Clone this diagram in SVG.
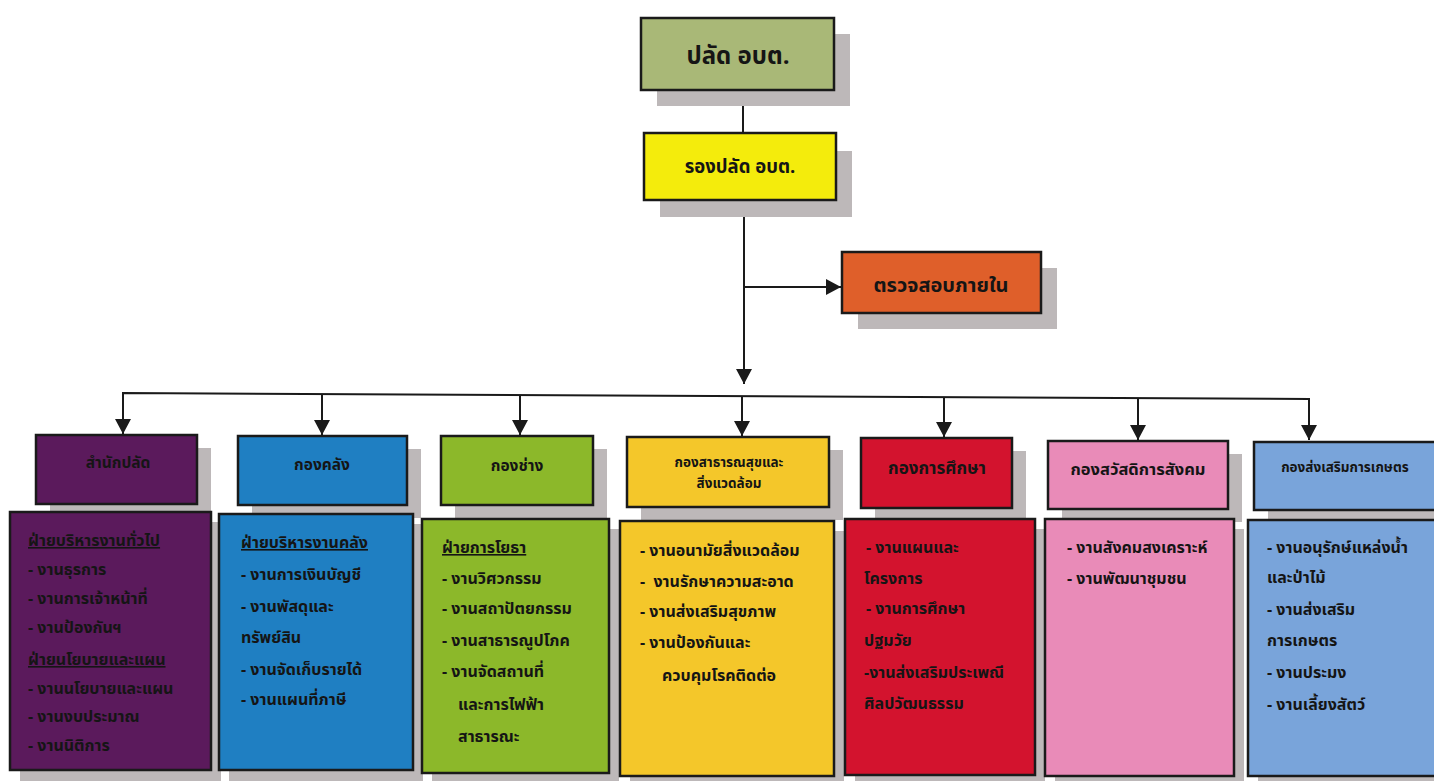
<svg xmlns="http://www.w3.org/2000/svg" width="1434" height="781" viewBox="0 0 1434 781">
<defs>
<marker id="arr" markerUnits="userSpaceOnUse" markerWidth="18" markerHeight="18" refX="15" refY="8" orient="auto"><path d="M0,0 L15,8 L0,16 z" fill="#1a1a1a"/></marker>
<style>
text{font-family:"Noto Sans Thai","Noto Sans","Liberation Sans",sans-serif;font-weight:bold;fill:#151515}
.box{stroke:#1a1a1a;stroke-width:2.5}
.sh{fill:#bdb8b9}
.conn{stroke:#1a1a1a;stroke-width:2;fill:none}
.h{font-size:15.5px;text-anchor:middle}
.b{font-size:16px}
.u{text-decoration:underline}
</style>
</defs>
<rect width="1434" height="781" fill="#fff"/>
<g id="connectors">
<line class="conn" x1="743" y1="90" x2="743" y2="133"/>
<line class="conn" x1="744" y1="200" x2="744" y2="384" marker-end="url(#arr)"/>
<line class="conn" x1="744" y1="287" x2="841" y2="287" marker-end="url(#arr)"/>
<polyline class="conn" points="123,433 123,393 1309,399 1309,440" marker-end="url(#arr)"/>
<line class="conn" x1="123" y1="393" x2="123" y2="434" marker-end="url(#arr)"/>
<line class="conn" x1="322" y1="394" x2="322" y2="435" marker-end="url(#arr)"/>
<line class="conn" x1="520" y1="395" x2="520" y2="435" marker-end="url(#arr)"/>
<line class="conn" x1="742" y1="396" x2="742" y2="436" marker-end="url(#arr)"/>
<line class="conn" x1="944" y1="397" x2="944" y2="437" marker-end="url(#arr)"/>
<line class="conn" x1="1138" y1="398" x2="1138" y2="440" marker-end="url(#arr)"/>
</g>
<g id="n-palad">
<rect class="sh" x="657" y="34" width="193" height="72"/>
<rect class="box" x="641" y="18" width="193" height="72" fill="#a9b877"/>
<text x="738" y="64" font-size="24" text-anchor="middle">ปลัด อบต.</text>
</g>
<g id="n-rongpalad">
<rect class="sh" x="660" y="151" width="192" height="66"/>
<rect class="box" x="644" y="133" width="192" height="67" fill="#f4ec0c"/>
<text x="740" y="173" font-size="18.5" text-anchor="middle">รองปลัด อบต.</text>
</g>
<g id="n-audit">
<rect class="sh" x="858" y="268" width="199" height="61"/>
<rect class="box" x="842" y="252" width="199" height="61" fill="#df5f2a"/>
<text x="941" y="292" font-size="20" text-anchor="middle">ตรวจสอบภายใน</text>
</g>
<g id="n-samnak">
<rect class="sh" x="50" y="448" width="161" height="69"/>
<rect class="box" x="36" y="435" width="161" height="69" fill="#5b1a5c"/>
<text class="h" x="118" y="468">สำนักปลัด</text>
<rect class="sh" x="20" y="522" width="201" height="259"/>
<rect class="box" x="10" y="512" width="201" height="258" fill="#5b1a5c"/>
<text class="b u" x="28" y="546">ฝ่ายบริหารงานทั่วไป</text>
<text class="b" x="28" y="575">- งานธุรการ</text>
<text class="b" x="28" y="604">- งานการเจ้าหน้าที่</text>
<text class="b" x="28" y="633">- งานป้องกันฯ</text>
<text class="b u" x="28" y="665">ฝ่ายนโยบายและแผน</text>
<text class="b" x="28" y="694">- งานนโยบายและแผน</text>
<text class="b" x="28" y="722">- งานงบประมาณ</text>
<text class="b" x="28" y="751">- งานนิติการ</text>
</g>
<g id="n-klang">
<rect class="sh" x="252" y="449" width="169" height="69"/>
<rect class="box" x="238" y="436" width="169" height="69" fill="#1f7fc2"/>
<text class="h" x="322" y="470">กองคลัง</text>
<rect class="sh" x="229" y="524" width="194" height="257"/>
<rect class="box" x="219" y="514" width="194" height="256" fill="#1f7fc2"/>
<text class="b u" x="241" y="548">ฝ่ายบริหารงานคลัง</text>
<text class="b" x="241" y="580">- งานการเงินบัญชี</text>
<text class="b" x="241" y="612">- งานพัสดุและ</text>
<text class="b" x="241" y="643">ทรัพย์สิน</text>
<text class="b" x="241" y="675">- งานจัดเก็บรายได้</text>
<text class="b" x="241" y="705">- งานแผนที่ภาษี</text>
</g>
<g id="n-chang">
<rect class="sh" x="455" y="449" width="152" height="69"/>
<rect class="box" x="441" y="436" width="152" height="69" fill="#8cb82a"/>
<text class="h" x="517" y="471">กองช่าง</text>
<rect class="sh" x="432" y="529" width="187" height="252"/>
<rect class="box" x="422" y="519" width="187" height="254" fill="#8cb82a"/>
<text class="b u" x="442" y="553">ฝ่ายการโยธา</text>
<text class="b" x="442" y="584">- งานวิศวกรรม</text>
<text class="b" x="442" y="614">- งานสถาปัตยกรรม</text>
<text class="b" x="442" y="646">- งานสาธารณูปโภค</text>
<text class="b" x="442" y="677">- งานจัดสถานที่</text>
<text class="b" x="458" y="710">และการไฟฟ้า</text>
<text class="b" x="458" y="742">สาธารณะ</text>
</g>
<g id="n-satharanasuk">
<rect class="sh" x="641" y="450" width="202" height="70"/>
<rect class="box" x="627" y="437" width="202" height="70" fill="#f4c72a"/>
<text x="729" y="467" font-size="13.5" text-anchor="middle">กองสาธารณสุขและ</text>
<text x="729" y="488" font-size="13.5" text-anchor="middle">สิ่งแวดล้อม</text>
<rect class="sh" x="630" y="531" width="214" height="250"/>
<rect class="box" x="620" y="521" width="214" height="255" fill="#f4c72a"/>
<text class="b" x="640" y="556">- งานอนามัยสิ่งแวดล้อม</text>
<text class="b" x="640" y="587" xml:space="preserve">-  งานรักษาความสะอาด</text>
<text class="b" x="640" y="617">- งานส่งเสริมสุขภาพ</text>
<text class="b" x="640" y="648">- งานป้องกันและ</text>
<text class="b" x="662" y="681">ควบคุมโรคติดต่อ</text>
</g>
<g id="n-suksa">
<rect class="sh" x="875" y="451" width="151" height="70"/>
<rect class="box" x="861" y="438" width="151" height="70" fill="#d3132e"/>
<text x="937" y="474" font-size="17" text-anchor="middle">กองการศึกษา</text>
<rect class="sh" x="855" y="529" width="190" height="252"/>
<rect class="box" x="845" y="519" width="190" height="256" fill="#d3132e"/>
<text class="b" x="866" y="553">- งานแผนและ</text>
<text class="b" x="864" y="584">โครงการ</text>
<text class="b" x="866" y="614">- งานการศึกษา</text>
<text class="b" x="864" y="646">ปฐมวัย</text>
<text class="b" x="864" y="678">-งานส่งเสริมประเพณี</text>
<text class="b" x="864" y="709">ศิลปวัฒนธรรม</text>
</g>
<g id="n-sawatdikan">
<rect class="sh" x="1062" y="454" width="180" height="68"/>
<rect class="box" x="1048" y="441" width="180" height="68" fill="#e98bb8"/>
<text x="1138" y="475" font-size="16.5" text-anchor="middle">กองสวัสดิการสังคม</text>
<rect class="sh" x="1055" y="529" width="189" height="252"/>
<rect class="box" x="1045" y="519" width="189" height="257" fill="#e98bb8"/>
<text class="b" x="1067" y="553">- งานสังคมสงเคราะห์</text>
<text class="b" x="1067" y="584">- งานพัฒนาชุมชน</text>
</g>
<g id="n-kaset">
<rect class="sh" x="1268" y="455" width="180" height="68"/>
<rect class="box" x="1254" y="442" width="182" height="68" fill="#79a4da"/>
<text x="1345" y="472" font-size="13.5" text-anchor="middle">กองส่งเสริมการเกษตร</text>
<rect class="sh" x="1258" y="530" width="186" height="251"/>
<rect class="box" x="1248" y="520" width="188" height="256" fill="#79a4da"/>
<text class="b" x="1267" y="553">- งานอนุรักษ์แหล่งน้ำ</text>
<text class="b" x="1267" y="583">และป่าไม้</text>
<text class="b" x="1267" y="615">- งานส่งเสริม</text>
<text class="b" x="1267" y="646">การเกษตร</text>
<text class="b" x="1267" y="678">- งานประมง</text>
<text class="b" x="1267" y="710">- งานเลี้ยงสัตว์</text>
</g>
</svg>
